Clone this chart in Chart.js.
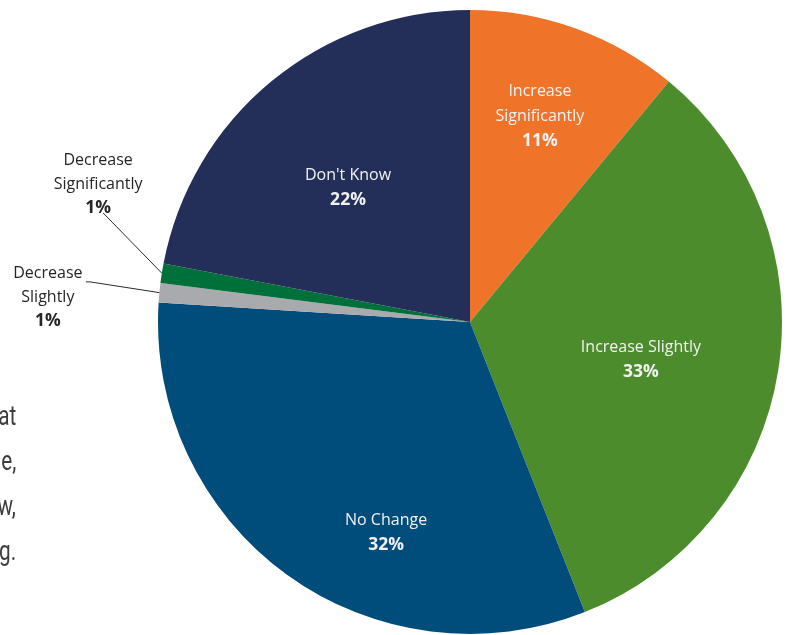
<!DOCTYPE html>
<html>
<head>
<meta charset="utf-8">
<script src="https://cdn.jsdelivr.net/npm/chart.js@4/dist/chart.umd.min.js"></script>
<style>
  html, body { margin: 0; padding: 0; background: #ffffff; }
  #wrap { position: relative; width: 790px; height: 635px; overflow: hidden; }
  #chart { position: absolute; left: 0; top: 0; }
  .side {
    position: absolute; right: 774px; white-space: nowrap;
    font-family: "Liberation Sans Narrow", "Roboto", "Open Sans", sans-serif;
    font-weight: 400; font-size: 28px; color: #3c3c3c;
    transform: scaleX(0.74); transform-origin: right center;
  }
</style>
</head>
<body>
<div id="wrap">
  <canvas id="chart" width="790" height="635"></canvas>
  <div class="side" style="top:399px">at</div>
  <div class="side" style="top:444px">e,</div>
  <div class="side" style="top:489px">w,</div>
  <div class="side" style="top:534px">g.</div>
</div>
<script>
// Survey responses, share of respondents (%)
const categories = ["Increase Significantly", "Increase Slightly", "No Change", "Decrease Slightly", "Decrease Significantly", "Don't Know"];
const shares = [11, 33, 32, 1, 1, 22];
const sliceColors = ["#F0732A", "#4D8C2C", "#004C7B", "#A9AAAD", "#00703A", "#232F58"];
// label text lines as drawn inside/outside each slice
const labelLines = [["Increase", "Significantly"], ["Increase Slightly"], ["No Change"], ["Decrease", "Slightly"], ["Decrease", "Significantly"], ["Don't Know"]];
// label block centre relative to pie centre, in units of the radius
const labelOffsets = [[0.224, -0.66], [0.548, 0.12], [-0.269, 0.675], [-1.353, -0.079], [-1.192, -0.441], [-0.391, -0.429]];
// leader line start (px offset from label centre) for labels placed outside the pie
const leaderStarts = [null, null, null, [[38, -15.5], [42, -15.5]], [[5, 28.5]], null];
const outside = [false, false, false, true, true, false];

const labelPlugin = {
  id: 'sliceLabels',
  afterDatasetsDraw(chart) {
    const ctx = chart.ctx;
    const meta = chart.getDatasetMeta(0);
    ctx.save();
    meta.data.forEach((arc, i) => {
      const p = arc.getProps(['x', 'y', 'startAngle', 'endAngle', 'outerRadius'], true);
      const r = p.outerRadius;
      const cx = p.x + labelOffsets[i][0] * r;
      const cy = p.y + labelOffsets[i][1] * r;
      const lines = labelLines[i].concat([shares[i] + '%']);
      const lh = outside[i] ? 23.5 : 24.5;
      const top = cy - (lines.length - 1) * lh / 2;
      // leader line to the slice edge
      if (leaderStarts[i]) {
        const mid = (p.startAngle + p.endAngle) / 2;
        ctx.beginPath();
        ctx.strokeStyle = '#2a2a2a';
        ctx.lineWidth = 1;
        leaderStarts[i].forEach((s, k) => {
          if (k === 0) ctx.moveTo(cx + s[0], cy + s[1]); else ctx.lineTo(cx + s[0], cy + s[1]);
        });
        ctx.lineTo(p.x + Math.cos(mid) * r, p.y + Math.sin(mid) * r);
        ctx.stroke();
      }
      ctx.textAlign = 'center';
      ctx.textBaseline = 'middle';
      ctx.fillStyle = outside[i] ? '#262626' : '#F2F2F2';
      lines.forEach((t, k) => {
        const last = k === lines.length - 1;
        ctx.font = last ? 'bold 17.5px "Open Sans", sans-serif' : '16px "Open Sans", sans-serif';
        ctx.fillText(t, cx, top + k * lh);
      });
    });
    ctx.restore();
  }
};

new Chart(document.getElementById('chart'), {
  type: 'pie',
  data: {
    labels: categories,
    datasets: [{
      data: shares,
      backgroundColor: sliceColors,
      borderWidth: 0,
      hoverOffset: 0,
      offset: 0
    }]
  },
  options: {
    responsive: false,
    animation: false,
    events: [],
    layout: { padding: { left: 158, right: 8, top: 10, bottom: 1 } },
    plugins: {
      legend: { display: false },
      tooltip: { enabled: false }
    }
  },
  plugins: [labelPlugin]
});
</script>
</body>
</html>
